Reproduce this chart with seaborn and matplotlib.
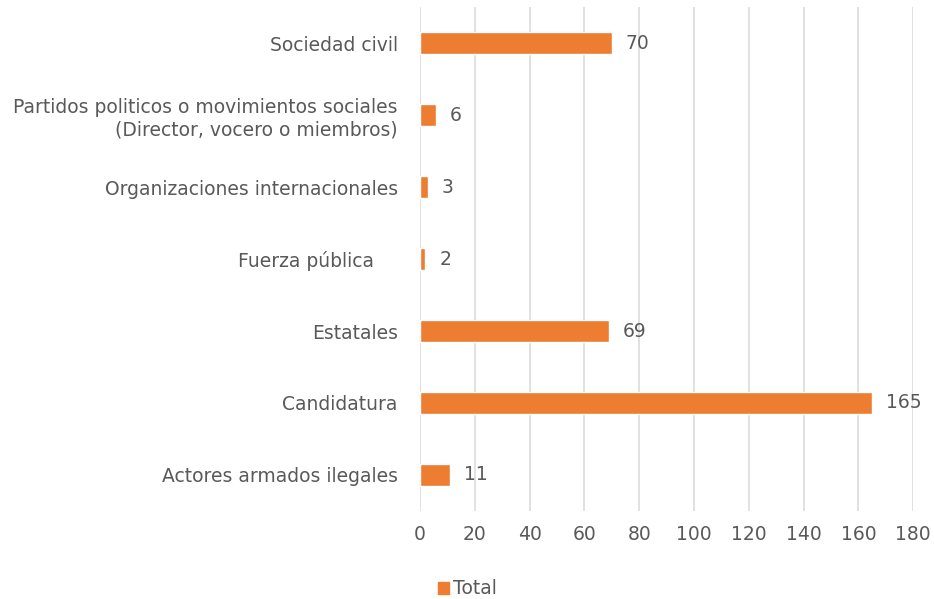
import matplotlib
matplotlib.use("Agg")
import matplotlib.pyplot as plt
import seaborn as sns
import pandas as pd

categories = [
    "Sociedad civil",
    "Partidos politicos o movimientos sociales\n(Director, vocero o miembros)",
    "Organizaciones internacionales",
    "Fuerza pública    ",
    "Estatales",
    "Candidatura",
    "Actores armados ilegales",
]
values = [70, 6, 3, 2, 69, 165, 11]
xticks = [0, 20, 40, 60, 80, 100, 120, 140, 160, 180]

sns.set_theme(style="white")
plt.rcParams['font.family'] = ['DejaVu Sans']

df = pd.DataFrame({"cat": categories, "val": values, "serie": "Total"})

fig = plt.figure(figsize=(9.34, 5.99), dpi=100)
ax = fig.add_axes([0.4497, 0.147, 0.528, 0.841])
color = "#ED7D31"
text_color = "#595959"
fs = 13.5
sns.barplot(data=df, y="cat", x="val", hue="serie", palette=[color],
            saturation=1, orient="h", width=0.31, ax=ax, legend=False)

ax.set_xlim(0, 180)
ax.set_xticks(xticks)
ax.set_xticklabels([str(t) for t in xticks])
ax.set_ylim(6.5, -0.5)
ax.grid(axis="x", color="#D9D9D9", linewidth=1.1)
ax.set_axisbelow(True)
for s in ax.spines.values():
    s.set_visible(False)
ax.set_xlabel("")
ax.set_ylabel("")
ax.tick_params(axis="both", length=0, labelsize=fs, labelcolor=text_color)
ax.tick_params(axis="y", pad=16)
ax.tick_params(axis="x", pad=10)
for lab in ax.get_yticklabels():
    lab.set_linespacing(1.2)

for i, v in enumerate(values):
    ax.text(v + 5, i, str(v), va="center", ha="left", fontsize=fs, color=text_color)

from matplotlib.patches import Patch
leg = fig.legend(handles=[Patch(color=color, label="Total")], loc="center",
                 bbox_to_anchor=(0.50, 0.017), frameon=False, fontsize=fs,
                 handlelength=0.6, handleheight=0.6, handletextpad=0.2)
for t in leg.get_texts():
    t.set_color(text_color)

fig.savefig("out.png", dpi=100)
